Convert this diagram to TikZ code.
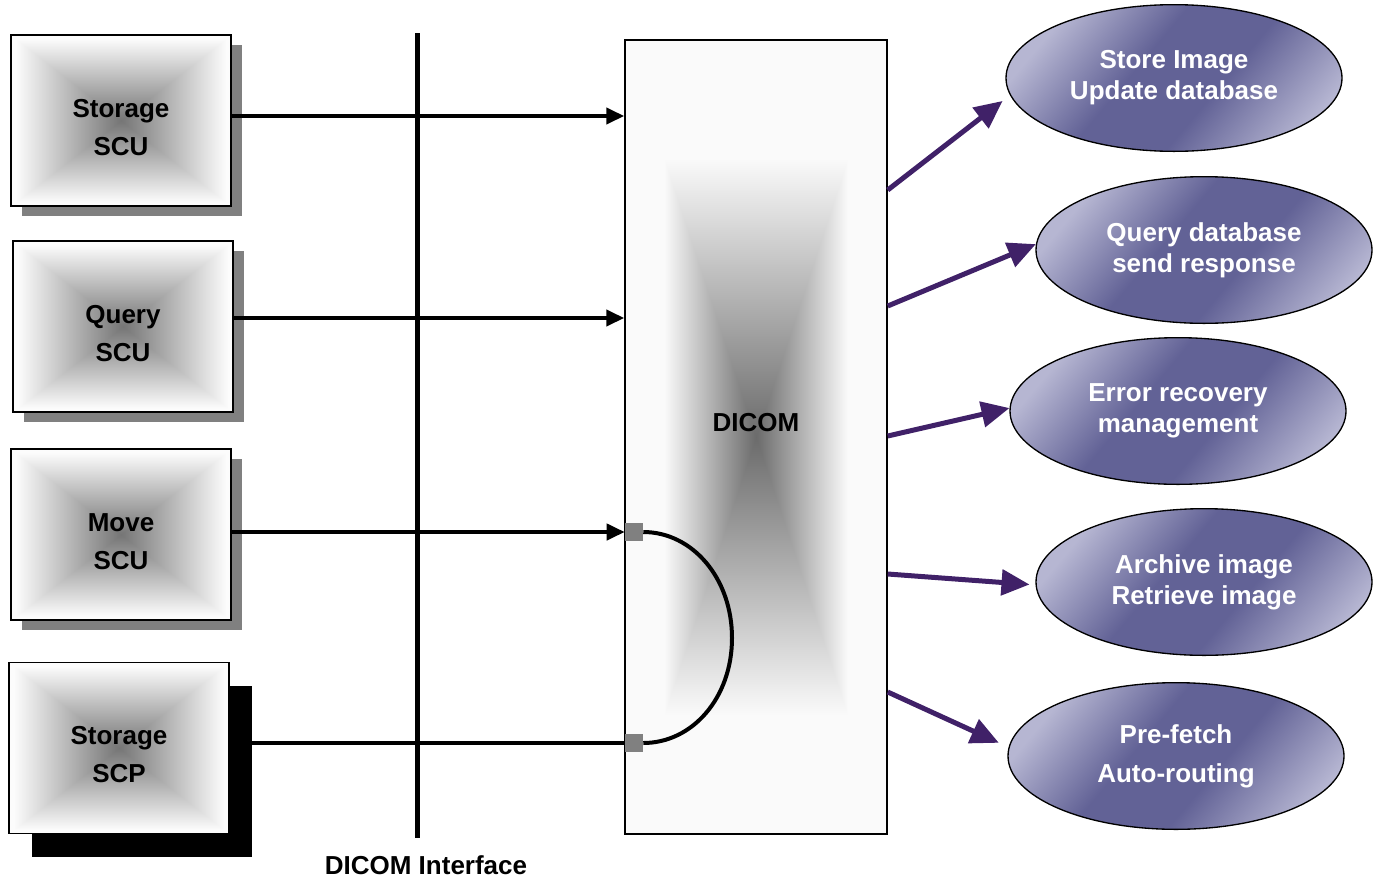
\documentclass[tikz,border=0pt]{standalone}
\usepackage{fontspec}
\setmainfont{Liberation Sans}
\usetikzlibrary{shapes.geometric,arrows.meta,shadows}

\definecolor{shadowgray}{RGB}{128,128,128}
\definecolor{linkpurple}{RGB}{64,33,104}
\definecolor{elight}{RGB}{182,182,210}
\definecolor{edark}{RGB}{98,98,150}
\definecolor{portgray}{RGB}{128,128,128}

% rectangular "pyramid" gradient: dark centre, white border
\pgfdeclarefunctionalshading{boxgrad}{\pgfpointorigin}{\pgfpoint{100bp}{100bp}}{}{%
  50 sub abs exch 50 sub abs
  2 copy lt {exch} if pop
  24 div dup 1 gt {pop 1} if
  0.53 mul 0.46 add
  dup dup}
\pgfdeclarefunctionalshading{dicomgrad}{\pgfpointorigin}{\pgfpoint{100bp}{100bp}}{}{%
  50 sub abs exch 50 sub abs
  2 copy lt {exch} if pop
  17.5 div dup 1 gt {pop 1} if
  0.56 mul 0.42 add dup 0.985 gt {pop 0.985} if
  dup dup}
% diagonal lavender band for the service ellipses
\pgfdeclarehorizontalshading{ellgrad}{100bp}{color(0bp)=(elight); color(25bp)=(elight);
  color(43bp)=(edark); color(58bp)=(edark); color(77bp)=(elight); color(100bp)=(elight)}

\tikzset{
  x=0.75pt, y=-0.75pt,
  lbl/.style={font=\bfseries\fontsize{19.5}{23.25}\selectfont, align=center},
  scubox/.style={rectangle, draw=black, line width=1pt, shade, shading=boxgrad,
    minimum width=165pt, minimum height=128.25pt, inner sep=0pt},
  grayshadow/.style={drop shadow={shadow xshift=8.25pt, shadow yshift=-7.5pt,
    fill=shadowgray, opacity=1}},
  blackshadow/.style={drop shadow={shadow xshift=17.25pt, shadow yshift=-17.25pt,
    fill=black, opacity=1}},
  task/.style={lbl, ellipse, draw=black, line width=1pt, shade, shading=ellgrad,
    shading angle=-40, text=white, minimum width=252pt, minimum height=110pt, inner sep=0pt},
  link/.style={line width=3pt, -{Triangle[length=13.5pt,width=12pt]}},
  plink/.style={draw=linkpurple, line width=3.75pt, -{Triangle[length=21pt,width=19pt]}},
  port/.style={rectangle, fill=portgray, minimum size=13.5pt, inner sep=0pt},
  bus/.style={line width=3.75pt},
}

\begin{document}
\begin{tikzpicture}
\useasboundingbox (0,0) rectangle (1382,879);

% DICOM core
\node[rectangle, draw=black, line width=1.1pt, shade, shading=dicomgrad,
  minimum width=196.5pt, minimum height=595.5pt, inner sep=0pt] (dicom) at (756,437) {};
\node[lbl] (dicomtxt) at (756,423) {DICOM};

% service class users / provider
\node[scubox, grayshadow] (b1) at (121,120.5) {};
\node[scubox, grayshadow] (b2) at (123,326.5) {};
\node[scubox, grayshadow] (b3) at (121,534.5) {};
\node[scubox, blackshadow] (b4) at (119,748) {};
\node[lbl] (b1t) at ([yshift=-5.25pt]b1.center) {Storage\\[5.25pt]SCU};
\node[lbl] (b2t) at ([yshift=-5.25pt]b2.center) {Query\\[5.25pt]SCU};
\node[lbl] (b3t) at ([yshift=-5.25pt]b3.center) {Move\\[5.25pt]SCU};
\node[lbl] (b4t) at ([yshift=-5.25pt]b4.center) {Storage\\[5.25pt]SCP};

% interface bus
\coordinate (bustop) at (417,33);
\coordinate (busbot) at (417,838);
\draw[bus] (bustop) -- (busbot);
\node[lbl, anchor=north] (ifacetxt) at (426,851) {DICOM Interface};

% move / store ports
\node[port] (sq1) at (634,532) {};
\node[port] (sq2) at (634,743) {};

% links into the core
\draw[link] (b1.east |- 0,116) -- (dicom.west |- 0,116);
\draw[link] (b2.east |- 0,318) -- (dicom.west |- 0,318);
\draw[link] (b3.east |- sq1) -- (sq1.west);
\draw[line width=3pt] (b4.east |- sq2) -- (sq2.west);
\draw[line width=3pt] (sq1.east) .. controls +(49,0) and +(0,-60) .. (732,638)
  .. controls +(0,60) and +(49,0) .. (sq2.east);

% services
\node[task] (e1) at (1174,78) {Store Image\\Update database};
\node[task] (e2) at (1204,250) {Query database\\send response};
\node[task] (e3) at (1178,411) {Error recovery\\management};
\node[task] (e4) at (1204,582) {Archive image\\Retrieve image};
\node[task] (e5) at (1176,756) {Pre-fetch\\[6pt]Auto-routing};

\draw[plink, shorten >=7pt] (dicom.east |- 0,190) -- (e1.186);
\draw[plink] (dicom.east |- 0,306) -- (e2.178);
\draw[plink] (dicom.east |- 0,436) -- (e3.179.5);
\draw[plink, shorten >=4.5pt] (dicom.east |- 0,574) -- (e4.181);
\draw[plink, shorten >=8pt] (dicom.east |- 0,692) -- (e5.177);
\end{tikzpicture}
\end{document}
